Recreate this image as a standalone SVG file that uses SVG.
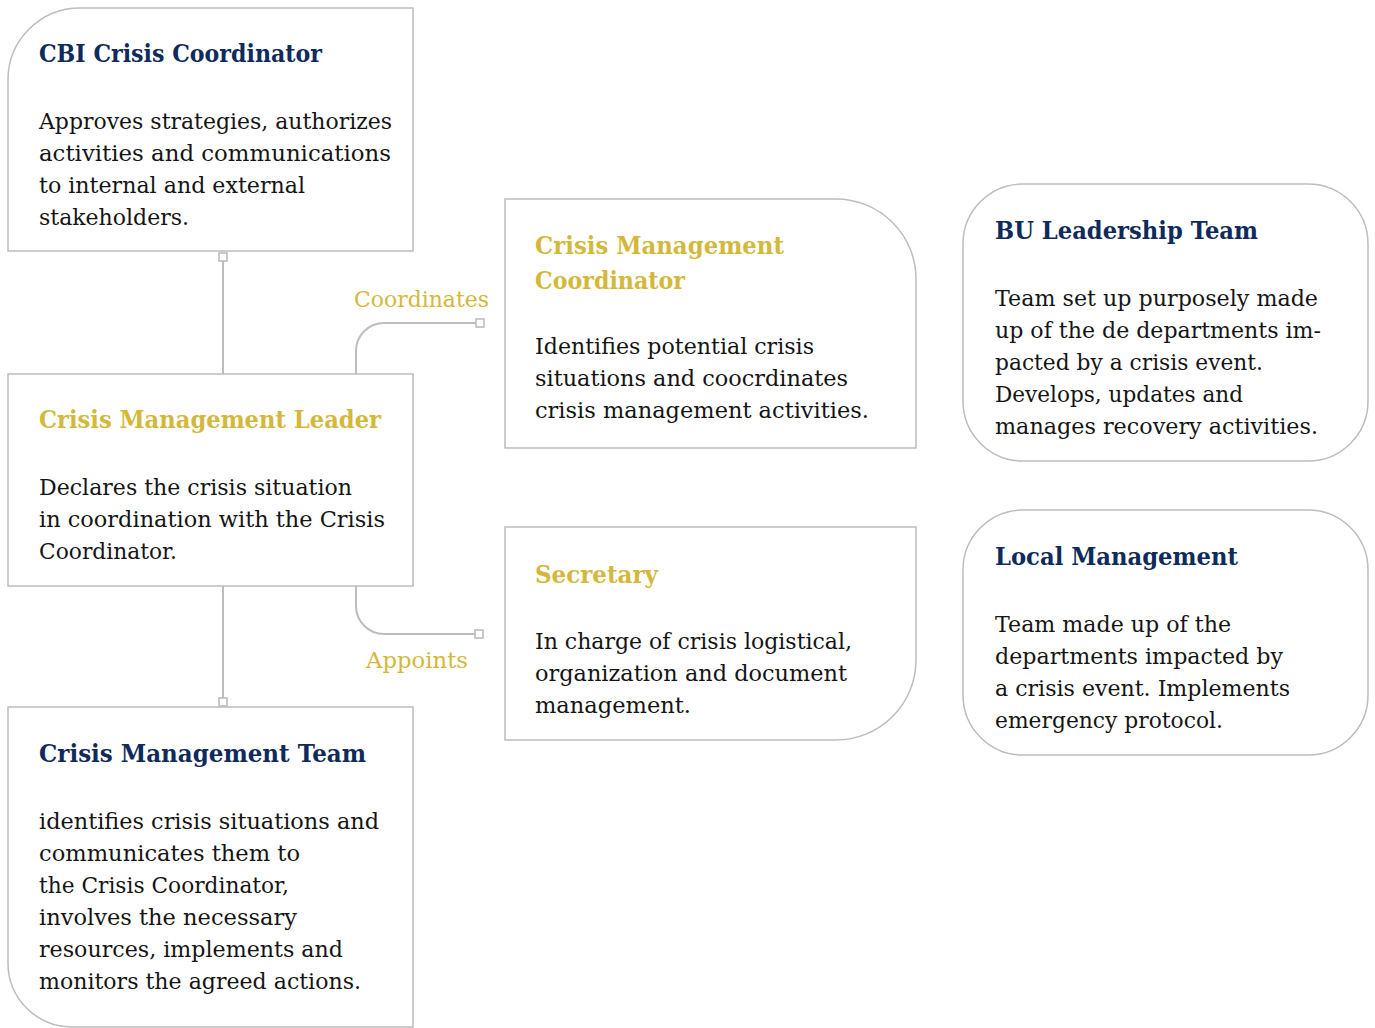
<svg xmlns="http://www.w3.org/2000/svg" width="1375" height="1028" viewBox="0 0 1375 1028">
  <style>
    .box { fill: #ffffff; stroke: #bdbdbd; stroke-width: 1.5; }
    .h { font-family: "DejaVu Serif", "Liberation Serif", serif; font-weight: bold; font-size: 25px; }
    .navy { fill: #0f2b5b; }
    .gold { fill: #d4b83b; }
    .b { font-family: "DejaVu Serif", "Liberation Serif", serif; font-size: 23px; fill: #151515; }
    .lbl { font-family: "DejaVu Serif", "Liberation Serif", serif; font-size: 22px; fill: #d4b83b; }
    .conn { fill: none; stroke: #bdbdbd; stroke-width: 2; }
  </style>
  <defs>
    <marker id="sq" viewBox="0 0 10 10" refX="5" refY="5" markerWidth="10" markerHeight="10" markerUnits="userSpaceOnUse">
      <rect x="1" y="1" width="8" height="8" fill="#ffffff" stroke="#bdbdbd" stroke-width="1.6"/>
    </marker>
  </defs>
  <rect width="1375" height="1028" fill="#ffffff"/>

  <!-- connectors -->
  <g id="connectors">
    <path class="conn" d="M 223 374 V 257" marker-end="url(#sq)"/>
    <path class="conn" d="M 356 374 V 351 A 28 28 0 0 1 384 323 H 480" marker-end="url(#sq)"/>
    <path class="conn" d="M 356 586 V 606 A 28 28 0 0 0 384 634 H 479" marker-end="url(#sq)"/>
    <path class="conn" d="M 223 586 V 702" marker-end="url(#sq)"/>
    <text class="lbl" x="354" y="307" textLength="135" lengthAdjust="spacingAndGlyphs">Coordinates</text>
    <text class="lbl" x="366" y="668" textLength="102" lengthAdjust="spacingAndGlyphs">Appoints</text>
  </g>

  <!-- CBI Crisis Coordinator -->
  <g id="cbi-crisis-coordinator">
    <path class="box" d="M 8 80 A 72 72 0 0 1 80 8 H 413 V 251 H 8 Z"/>
    <text class="h navy" x="39" y="62" textLength="283" lengthAdjust="spacingAndGlyphs">CBI Crisis Coordinator</text>
    <text class="b" x="39" y="129" textLength="353" lengthAdjust="spacingAndGlyphs">Approves strategies, authorizes</text>
    <text class="b" x="39" y="161" textLength="352" lengthAdjust="spacingAndGlyphs">activities and communications</text>
    <text class="b" x="39" y="193" textLength="266" lengthAdjust="spacingAndGlyphs">to internal and external</text>
    <text class="b" x="39" y="225" textLength="150" lengthAdjust="spacingAndGlyphs">stakeholders.</text>
  </g>

  <!-- Crisis Management Leader -->
  <g id="crisis-management-leader">
    <rect class="box" x="8" y="374" width="405" height="212"/>
    <text class="h gold" x="39" y="428" textLength="342" lengthAdjust="spacingAndGlyphs">Crisis Management Leader</text>
    <text class="b" x="39" y="495" textLength="313" lengthAdjust="spacingAndGlyphs">Declares the crisis situation</text>
    <text class="b" x="39" y="527" textLength="346" lengthAdjust="spacingAndGlyphs">in coordination with the Crisis</text>
    <text class="b" x="39" y="559" textLength="138" lengthAdjust="spacingAndGlyphs">Coordinator.</text>
  </g>

  <!-- Crisis Management Team -->
  <g id="crisis-management-team">
    <path class="box" d="M 8 707 H 413 V 1027 H 72 A 64 64 0 0 1 8 963 Z"/>
    <text class="h navy" x="39" y="762" textLength="327" lengthAdjust="spacingAndGlyphs">Crisis Management Team</text>
    <text class="b" x="39" y="829" textLength="340" lengthAdjust="spacingAndGlyphs">identifies crisis situations and</text>
    <text class="b" x="39" y="861" textLength="261" lengthAdjust="spacingAndGlyphs">communicates them to</text>
    <text class="b" x="39" y="893" textLength="250" lengthAdjust="spacingAndGlyphs">the Crisis Coordinator,</text>
    <text class="b" x="39" y="925" textLength="258" lengthAdjust="spacingAndGlyphs">involves the necessary</text>
    <text class="b" x="39" y="957" textLength="304" lengthAdjust="spacingAndGlyphs">resources, implements and</text>
    <text class="b" x="39" y="989" textLength="322" lengthAdjust="spacingAndGlyphs">monitors the agreed actions.</text>
  </g>

  <!-- Crisis Management Coordinator -->
  <g id="crisis-management-coordinator">
    <path class="box" d="M 505 199 H 836 A 80 80 0 0 1 916 279 V 448 H 505 Z"/>
    <text class="h gold" x="535" y="254" textLength="249" lengthAdjust="spacingAndGlyphs">Crisis Management</text>
    <text class="h gold" x="535" y="289" textLength="150" lengthAdjust="spacingAndGlyphs">Coordinator</text>
    <text class="b" x="535" y="354" textLength="279" lengthAdjust="spacingAndGlyphs">Identifies potential crisis</text>
    <text class="b" x="535" y="386" textLength="313" lengthAdjust="spacingAndGlyphs">situations and coocrdinates</text>
    <text class="b" x="535" y="418" textLength="334" lengthAdjust="spacingAndGlyphs">crisis management activities.</text>
  </g>

  <!-- Secretary -->
  <g id="secretary">
    <path class="box" d="M 505 527 H 916 V 660 A 80 80 0 0 1 836 740 H 505 Z"/>
    <text class="h gold" x="535" y="583" textLength="123" lengthAdjust="spacingAndGlyphs">Secretary</text>
    <text class="b" x="535" y="649" textLength="317" lengthAdjust="spacingAndGlyphs">In charge of crisis logistical,</text>
    <text class="b" x="535" y="681" textLength="312" lengthAdjust="spacingAndGlyphs">organization and document</text>
    <text class="b" x="535" y="713" textLength="156" lengthAdjust="spacingAndGlyphs">management.</text>
  </g>

  <!-- BU Leadership Team -->
  <g id="bu-leadership-team">
    <rect class="box" x="963" y="184" width="405" height="277" rx="60" ry="60"/>
    <text class="h navy" x="995" y="239" textLength="263" lengthAdjust="spacingAndGlyphs">BU Leadership Team</text>
    <text class="b" x="995" y="306" textLength="323" lengthAdjust="spacingAndGlyphs">Team set up purposely made</text>
    <text class="b" x="995" y="338" textLength="326" lengthAdjust="spacingAndGlyphs">up of the de departments im-</text>
    <text class="b" x="995" y="370" textLength="268" lengthAdjust="spacingAndGlyphs">pacted by a crisis event.</text>
    <text class="b" x="995" y="402" textLength="248" lengthAdjust="spacingAndGlyphs">Develops, updates and</text>
    <text class="b" x="995" y="434" textLength="323" lengthAdjust="spacingAndGlyphs">manages recovery activities.</text>
  </g>

  <!-- Local Management -->
  <g id="local-management">
    <rect class="box" x="963" y="510" width="405" height="245" rx="60" ry="60"/>
    <text class="h navy" x="995" y="565" textLength="243" lengthAdjust="spacingAndGlyphs">Local Management</text>
    <text class="b" x="995" y="632" textLength="236" lengthAdjust="spacingAndGlyphs">Team made up of the</text>
    <text class="b" x="995" y="664" textLength="288" lengthAdjust="spacingAndGlyphs">departments impacted by</text>
    <text class="b" x="995" y="696" textLength="295" lengthAdjust="spacingAndGlyphs">a crisis event. Implements</text>
    <text class="b" x="995" y="728" textLength="228" lengthAdjust="spacingAndGlyphs">emergency protocol.</text>
  </g>
</svg>
